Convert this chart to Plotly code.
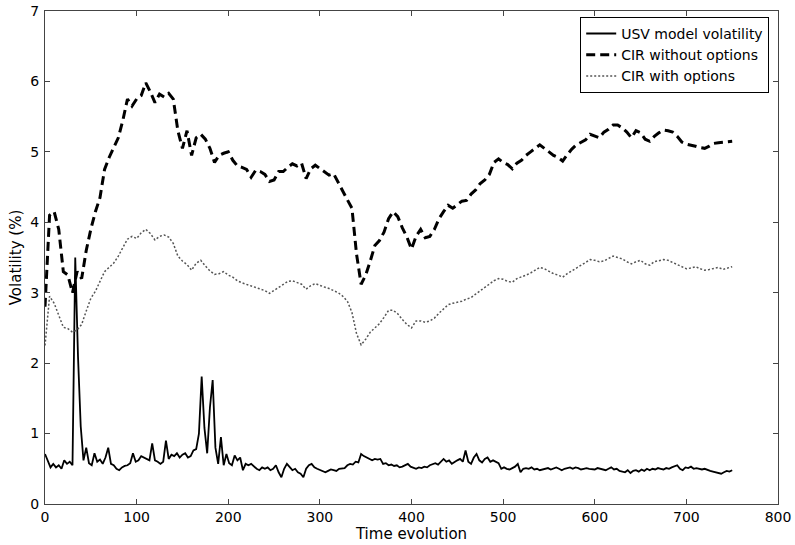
import plotly.graph_objects as go

# ---- data ----
t_cir = list(range(0, 751, 5))
cir_without = [
    2.80, 4.10, 4.15, 3.90, 3.30, 3.25, 3.00, 3.30, 3.20, 3.60,
    3.90, 4.15, 4.35, 4.75, 4.92, 5.05, 5.20, 5.45, 5.75, 5.65,
    5.75, 5.80, 5.98, 5.85, 5.70, 5.82, 5.78, 5.83, 5.75, 5.30,
    5.05, 5.30, 4.95, 5.20, 5.25, 5.18, 5.05, 4.85, 4.95, 4.98,
    5.00, 4.88, 4.80, 4.78, 4.75, 4.64, 4.74, 4.72, 4.68, 4.58,
    4.60, 4.72, 4.72, 4.78, 4.83, 4.80, 4.84, 4.62, 4.76, 4.81,
    4.76, 4.72, 4.67, 4.69, 4.56, 4.43, 4.32, 4.20, 3.55, 3.12,
    3.25, 3.45, 3.67, 3.74, 3.86, 4.05, 4.15, 4.08, 3.92, 3.79,
    3.62, 3.80, 3.90, 3.78, 3.80, 3.90, 4.05, 4.15, 4.24, 4.20,
    4.25, 4.30, 4.31, 4.40, 4.46, 4.55, 4.60, 4.68, 4.85, 4.90,
    4.85, 4.82, 4.76, 4.84, 4.88, 4.95, 5.00, 5.05, 5.10, 5.05,
    5.00, 4.95, 4.92, 4.87, 4.96, 5.04, 5.10, 5.14, 5.17, 5.25,
    5.22, 5.20, 5.28, 5.32, 5.38, 5.38, 5.34, 5.28, 5.20, 5.30,
    5.27, 5.18, 5.15, 5.22, 5.27, 5.31, 5.30, 5.28, 5.22, 5.14,
    5.11, 5.10, 5.08, 5.06, 5.05, 5.08, 5.12, 5.13, 5.14, 5.15,
    5.15,
]
cir_with = [
    2.25, 2.95, 2.85, 2.68, 2.51, 2.49, 2.44, 2.47, 2.55, 2.74,
    2.92, 3.02, 3.16, 3.30, 3.36, 3.42, 3.52, 3.65, 3.76, 3.80,
    3.77, 3.85, 3.90, 3.84, 3.75, 3.80, 3.82, 3.79, 3.70, 3.52,
    3.45, 3.40, 3.32, 3.42, 3.46, 3.38, 3.31, 3.26, 3.27, 3.30,
    3.25, 3.22, 3.17, 3.14, 3.12, 3.10, 3.08, 3.06, 3.03, 2.99,
    3.03, 3.08, 3.12, 3.16, 3.17, 3.14, 3.12, 3.05, 3.10, 3.13,
    3.10, 3.08, 3.06, 3.03, 3.00, 2.95, 2.88, 2.72, 2.42, 2.26,
    2.34, 2.44, 2.50, 2.56, 2.65, 2.75, 2.75, 2.70, 2.62, 2.55,
    2.50, 2.60, 2.60, 2.58, 2.60, 2.64, 2.71, 2.77, 2.83, 2.85,
    2.86, 2.88, 2.91, 2.93, 2.98, 3.03, 3.08, 3.13, 3.17, 3.20,
    3.19, 3.16, 3.15, 3.20, 3.22, 3.25, 3.28, 3.32, 3.36, 3.34,
    3.30, 3.27, 3.25, 3.22, 3.27, 3.31, 3.35, 3.38, 3.42, 3.47,
    3.46, 3.44, 3.45, 3.49, 3.52, 3.50, 3.48, 3.44, 3.41, 3.44,
    3.46, 3.41, 3.39, 3.44, 3.46, 3.47, 3.46, 3.43, 3.41, 3.37,
    3.34, 3.35, 3.37, 3.34, 3.32, 3.33, 3.34, 3.36, 3.33, 3.35,
    3.37,
]

t_usv = list(range(0, 751, 3))
usv = [
    0.71, 0.62, 0.52, 0.57, 0.52, 0.55, 0.50, 0.62, 0.57, 0.60,
    0.55, 3.50, 2.10, 1.10, 0.62, 0.80, 0.58, 0.55, 0.72, 0.60,
    0.63, 0.57, 0.66, 0.80, 0.57, 0.55, 0.50, 0.48, 0.52, 0.54,
    0.55, 0.58, 0.72, 0.60, 0.62, 0.68, 0.66, 0.64, 0.62, 0.86,
    0.62, 0.60, 0.57, 0.60, 0.90, 0.64, 0.70, 0.68, 0.72, 0.66,
    0.70, 0.72, 0.66, 0.68, 0.76, 0.78, 1.00, 1.81, 1.08, 0.72,
    1.37, 1.76, 0.80, 0.57, 0.95, 0.55, 0.71, 0.58, 0.55, 0.69,
    0.62, 0.66, 0.48, 0.57, 0.55, 0.57, 0.53, 0.50, 0.48, 0.52,
    0.50, 0.52, 0.48, 0.50, 0.55, 0.45, 0.38, 0.50, 0.57, 0.52,
    0.48, 0.50, 0.45, 0.43, 0.38, 0.50, 0.55, 0.57, 0.52, 0.50,
    0.48, 0.47, 0.45, 0.47, 0.49, 0.48, 0.47, 0.50, 0.50, 0.51,
    0.55, 0.57, 0.56, 0.60, 0.59, 0.71, 0.68, 0.66, 0.63, 0.62,
    0.64, 0.63, 0.64, 0.57, 0.58, 0.55, 0.56, 0.54, 0.55, 0.52,
    0.53, 0.55, 0.57, 0.53, 0.51, 0.50, 0.52, 0.51, 0.53, 0.52,
    0.55, 0.57, 0.58, 0.56, 0.60, 0.64, 0.60, 0.62, 0.57, 0.60,
    0.62, 0.64, 0.60, 0.76, 0.60, 0.57, 0.66, 0.71, 0.62, 0.59,
    0.64, 0.66, 0.60, 0.62, 0.60, 0.58, 0.50, 0.52, 0.50, 0.49,
    0.51, 0.53, 0.57, 0.45, 0.50, 0.51, 0.50, 0.52, 0.49, 0.50,
    0.48, 0.49, 0.50, 0.51, 0.49, 0.50, 0.52, 0.50, 0.48, 0.50,
    0.51, 0.52, 0.50, 0.52, 0.51, 0.49, 0.50, 0.51, 0.50, 0.50,
    0.49, 0.51, 0.50, 0.50, 0.48, 0.50, 0.52, 0.49, 0.50, 0.47,
    0.46, 0.45, 0.48, 0.44, 0.47, 0.48, 0.46, 0.49, 0.47, 0.50,
    0.48, 0.50, 0.49, 0.51, 0.50, 0.49, 0.51, 0.50, 0.52, 0.54,
    0.55, 0.50, 0.48, 0.52, 0.51, 0.53, 0.50, 0.51, 0.50, 0.49,
    0.50, 0.48, 0.47, 0.46, 0.45, 0.44, 0.43, 0.45, 0.47, 0.46,
    0.48,
]

x_ticks = [0, 100, 200, 300, 400, 500, 600, 700, 800]
y_ticks = [0, 1, 2, 3, 4, 5, 6, 7]

FONT = "DejaVu Sans, Liberation Sans, Arial, sans-serif"

fig = go.Figure()
fig.add_trace(go.Scatter(x=t_usv, y=usv, mode="lines", name="USV model volatility",
                         line=dict(color="black", width=1.8)))
fig.add_trace(go.Scatter(x=t_cir, y=cir_without, mode="lines", name="CIR without options",
                         line=dict(color="black", width=3, dash="9px,5px")))
fig.add_trace(go.Scatter(x=t_cir, y=cir_with, mode="lines", name="CIR with options",
                         line=dict(color="#555555", width=1.5, dash="2px,2px")))

axis_common = dict(showline=True, linecolor="#444444", linewidth=1, mirror="ticks",
                   ticks="inside", ticklen=5, tickcolor="#444444", showgrid=False,
                   zeroline=False, automargin=False,
                   tickfont=dict(family=FONT, size=14, color="black"))

fig.update_layout(
    width=795, height=545,
    margin=dict(l=45, r=17, t=11, b=41),
    paper_bgcolor="white", plot_bgcolor="white",
    font=dict(family=FONT, size=14, color="black"),
    xaxis=dict(range=[0, 800], tickvals=x_ticks, ticklabelstandoff=0,
               title=dict(text="Time evolution", standoff=3,
                          font=dict(family=FONT, size=15, color="black")),
               **axis_common),
    yaxis=dict(range=[0, 7], tickvals=y_ticks, ticklabelstandoff=2,
               title=dict(text="Volatility (%)", standoff=5,
                          font=dict(family=FONT, size=15, color="black")),
               **axis_common),
    legend=dict(x=0.988, y=0.988, xanchor="right", yanchor="top",
                bgcolor="white", bordercolor="black", borderwidth=1,
                font=dict(family=FONT, size=14, color="black"), tracegroupgap=0),
    showlegend=True,
)

fig.write_html("out.html")
